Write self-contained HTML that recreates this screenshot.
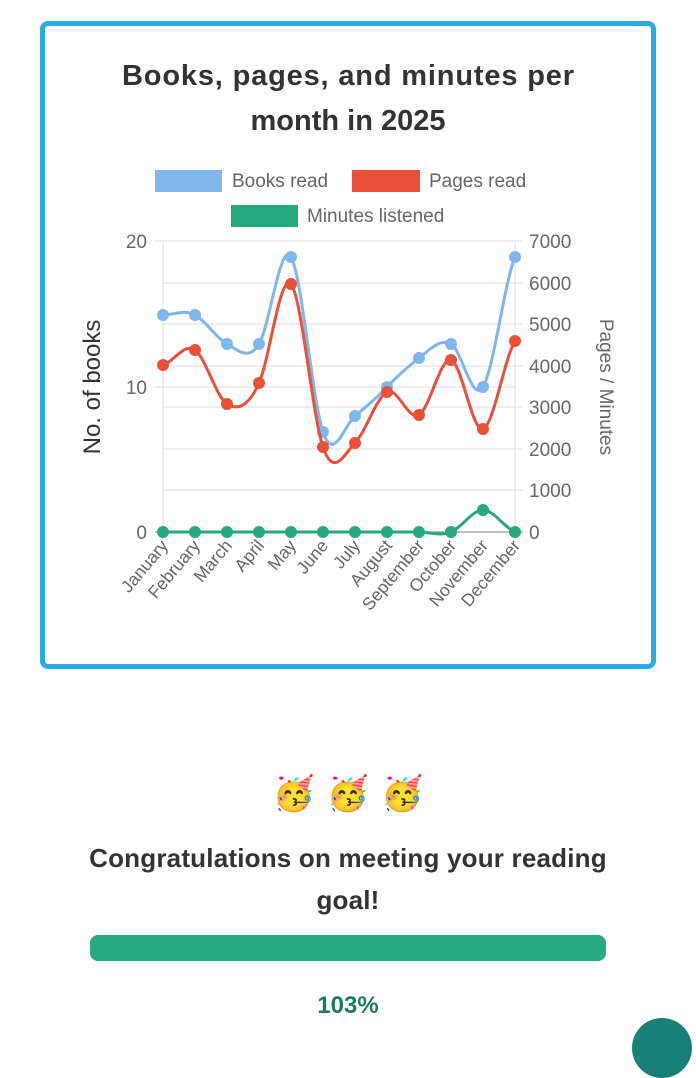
<!DOCTYPE html>
<html><head><meta charset="utf-8"><style>
body{margin:0;width:696px;height:1024px;background:#fff;overflow:hidden;font-family:"Liberation Sans",sans-serif;position:relative}
.card{position:absolute;left:40px;top:21px;width:606px;height:638px;border:5px solid #2aaae8;border-radius:8px}
</style></head><body>
<div class="card"></div>
<svg id="s" width="696" height="700" style="position:absolute;left:0;top:0" font-family="Liberation Sans, sans-serif">
<text x="348" y="85" text-anchor="middle" font-size="29" font-weight="bold" fill="#333" textLength="452">Books, pages, and minutes per</text>
<text x="348" y="130" text-anchor="middle" font-size="29" font-weight="bold" fill="#333">month in 2025</text>
<rect x="155" y="170" width="67" height="22" fill="#7fb6ec"/>
<text x="232" y="187" font-size="19" fill="#666">Books read</text>
<rect x="352" y="170" width="68" height="22" fill="#e8503a"/>
<text x="429" y="187" font-size="19" fill="#666">Pages read</text>
<rect x="231" y="205" width="67" height="22" fill="#27a97f"/>
<text x="307" y="222" font-size="19" fill="#666">Minutes listened</text>
<g stroke="#e4e4e4" stroke-width="1.3">
<line x1="163" y1="241" x2="515" y2="241"/><line x1="163" y1="283" x2="515" y2="283"/>
<line x1="163" y1="324" x2="515" y2="324"/><line x1="163" y1="366" x2="515" y2="366"/>
<line x1="163" y1="387" x2="515" y2="387"/><line x1="163" y1="407" x2="515" y2="407"/>
<line x1="163" y1="449" x2="515" y2="449"/><line x1="163" y1="490" x2="515" y2="490"/>
<line x1="163" y1="241" x2="163" y2="540"/><line x1="515" y1="241" x2="515" y2="540"/>
<line x1="155" y1="241" x2="163" y2="241"/><line x1="155" y1="387" x2="163" y2="387"/>
<line x1="515" y1="241" x2="523" y2="241"/><line x1="515" y1="283" x2="523" y2="283"/><line x1="515" y1="324" x2="523" y2="324"/><line x1="515" y1="366" x2="523" y2="366"/><line x1="515" y1="407" x2="523" y2="407"/><line x1="515" y1="449" x2="523" y2="449"/><line x1="515" y1="490" x2="523" y2="490"/>
</g>
<line x1="155" y1="532" x2="523" y2="532" stroke="#999" stroke-width="1.3"/>
<g font-size="19" fill="#666">
<text x="147" y="248" text-anchor="end">20</text><text x="147" y="394" text-anchor="end">10</text><text x="147" y="539" text-anchor="end">0</text>
<text x="529" y="248">7000</text><text x="529" y="290">6000</text><text x="529" y="331">5000</text><text x="529" y="373">4000</text><text x="529" y="414">3000</text><text x="529" y="456">2000</text><text x="529" y="497">1000</text><text x="529" y="539">0</text>
</g>
<text transform="translate(100,387) rotate(-90)" text-anchor="middle" font-size="24" fill="#333">No. of books</text>
<text transform="translate(600,387) rotate(90)" text-anchor="middle" font-size="19" fill="#666">Pages / Minutes</text>
<g id="lab" font-size="17.5" fill="#666"></g>
<g id="ser"></g>
</svg>
<div style="position:absolute;left:0;width:696px;top:774px;text-align:center;font-size:34px;letter-spacing:12px;padding-left:12px;box-sizing:border-box">🥳🥳🥳</div>
<div style="position:absolute;left:68px;width:560px;top:837px;text-align:center;font-size:26px;font-weight:bold;color:#333;line-height:42px;letter-spacing:0.2px">Congratulations on meeting your reading<br>goal!</div>
<div style="position:absolute;left:90px;top:935px;width:516px;height:26px;border-radius:8px;background:#28ab82"></div>
<div style="position:absolute;left:0;width:696px;top:992px;text-align:center;font-size:24px;font-weight:bold;color:#1c7a60">103%</div>
<div style="position:absolute;left:632px;top:1018px;width:60px;height:60px;border-radius:50%;background:#1a7f78"></div>
<script>
var xs=[];for(var i=0;i<12;i++)xs.push(163+32*i);
var months=["January","February","March","April","May","June","July","August","September","October","November","December"];
var lab=document.getElementById('lab'),ns="http://www.w3.org/2000/svg";
months.forEach(function(m,i){var t=document.createElementNS(ns,'text');t.setAttribute('transform','translate('+(xs[i]+6)+',546) rotate(-50)');t.setAttribute('text-anchor','end');t.textContent=m;lab.appendChild(t);});
var data=[["#7fb6ec",[315,315,344,344,257,432,416,387,358,344,387,257]],["#e8503a",[365,350,404,383,284,447,443,392,415,360,429,341]],["#27a97f",[532,532,532,532,532,532,532,532,532,532,510,532]]];
var g=document.getElementById('ser');
data.forEach(function(d){var y=d[1],c=d[0],p="M"+xs[0]+","+y[0];
for(var i=0;i<11;i++){var y0=y[Math.max(i-1,0)],y3=y[Math.min(i+2,11)];
var c1y=y[i]+(y[i+1]-y0)*0.2,c2y=y[i+1]-(y3-y[i])*0.2;
p+=" C"+(xs[i]+10.7)+","+c1y+" "+(xs[i+1]-10.7)+","+c2y+" "+xs[i+1]+","+y[i+1];}
var pa=document.createElementNS(ns,'path');pa.setAttribute('d',p);pa.setAttribute('fill','none');pa.setAttribute('stroke',c);pa.setAttribute('stroke-width','3');g.appendChild(pa);
y.forEach(function(v,i){var ci=document.createElementNS(ns,'circle');ci.setAttribute('cx',xs[i]);ci.setAttribute('cy',v);ci.setAttribute('r','6');ci.setAttribute('fill',c);g.appendChild(ci);});});
</script>
</body></html>
